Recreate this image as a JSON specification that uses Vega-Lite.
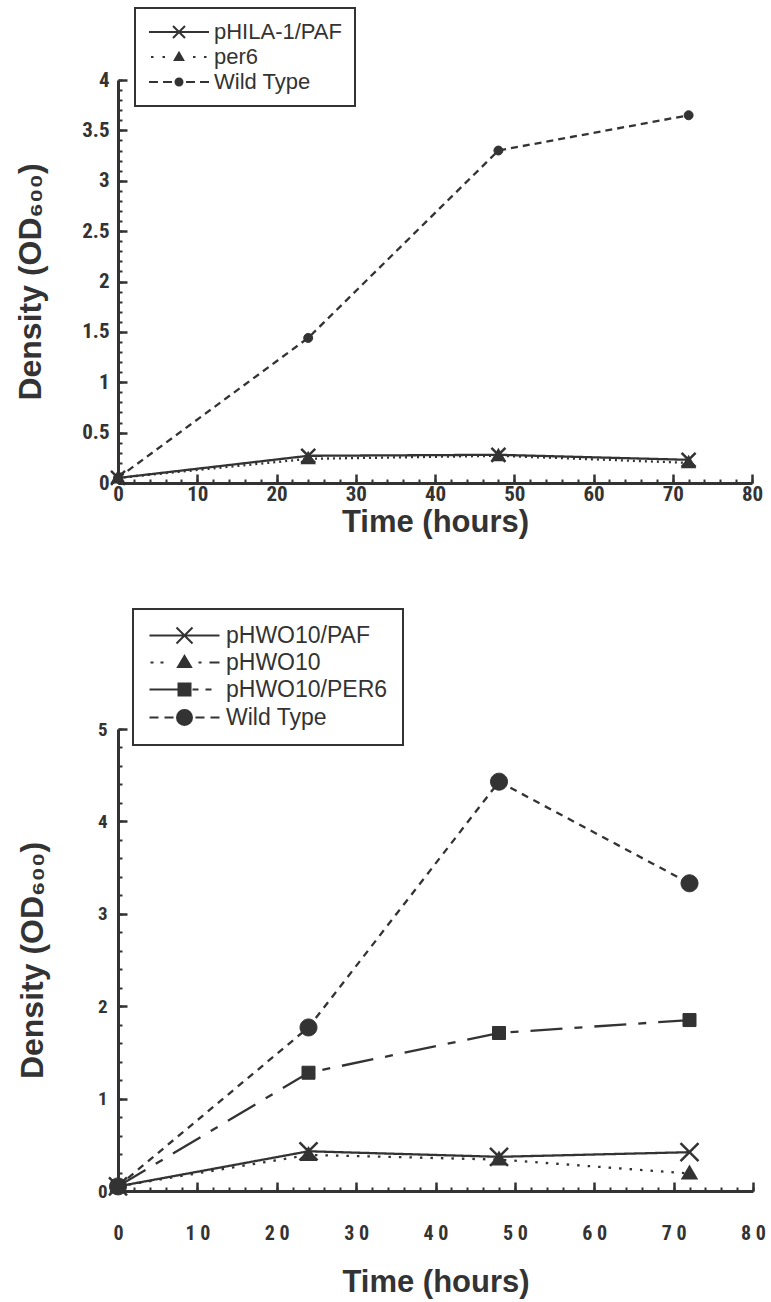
{
  "$schema": "https://vega.github.io/schema/vega-lite/v6.json",
  "background": "white",
  "padding": {"left": 14, "top": 7, "right": 5, "bottom": 5},
  "config": {
    "font": "Liberation Sans",
    "view": {"stroke": null},
    "legend": {"strokeWidth": 2},
    "axis": {
      "grid": false,
      "domainColor": "#333",
      "domainWidth": 3,
      "tickColor": "#333",
      "tickWidth": 2.5,
      "labelColor": "#333",
      "titleColor": "#333",
      "labelFont": "Liberation Sans Narrow, Roboto Condensed, DejaVu Sans Condensed, Liberation Sans, Arial, sans-serif",
      "labelFontWeight": "bold",
      "titleFont": "Liberation Sans, Arial, sans-serif",
      "titleFontWeight": "bold",
      "labelOverlap": false,
      "labelBound": false,
      "labelFlush": false
    }
  },
  "datasets": {
    "top": [
      {"series": "pHILA-1/PAF", "time": 0, "od": 0.05},
      {"series": "pHILA-1/PAF", "time": 24, "od": 0.27},
      {"series": "pHILA-1/PAF", "time": 48, "od": 0.28},
      {"series": "pHILA-1/PAF", "time": 72, "od": 0.23},
      {"series": "per6", "time": 0, "od": 0.05},
      {"series": "per6", "time": 24, "od": 0.24},
      {"series": "per6", "time": 48, "od": 0.27},
      {"series": "per6", "time": 72, "od": 0.2},
      {"series": "Wild Type", "time": 0, "od": 0.05},
      {"series": "Wild Type", "time": 24, "od": 1.44},
      {"series": "Wild Type", "time": 48, "od": 3.3},
      {"series": "Wild Type", "time": 72, "od": 3.65}
    ],
    "bottom": [
      {"series": "pHWO10/PAF", "time": 0, "od": 0.05},
      {"series": "pHWO10/PAF", "time": 24, "od": 0.43},
      {"series": "pHWO10/PAF", "time": 48, "od": 0.37},
      {"series": "pHWO10/PAF", "time": 72, "od": 0.42},
      {"series": "pHWO10", "time": 0, "od": 0.05},
      {"series": "pHWO10", "time": 24, "od": 0.39},
      {"series": "pHWO10", "time": 48, "od": 0.34},
      {"series": "pHWO10", "time": 72, "od": 0.19},
      {"series": "pHWO10/PER6", "time": 0, "od": 0.05},
      {"series": "pHWO10/PER6", "time": 24, "od": 1.28},
      {"series": "pHWO10/PER6", "time": 48, "od": 1.71},
      {"series": "pHWO10/PER6", "time": 72, "od": 1.85},
      {"series": "Wild Type", "time": 0, "od": 0.05},
      {"series": "Wild Type", "time": 24, "od": 1.77},
      {"series": "Wild Type", "time": 48, "od": 4.43},
      {"series": "Wild Type", "time": 72, "od": 3.33}
    ]
  },
  "bounds": "flush",
  "spacing": 246,
  "resolve": {
    "scale": {"shape": "independent", "strokeDash": "independent"},
    "legend": {"shape": "independent", "strokeDash": "independent"}
  },
  "vconcat": [
    {
      "data": {"name": "top"},
      "width": 634,
      "height": 403,
      "resolve": {"axis": {"x": "independent", "y": "independent"}},
      "layer": [
        {
          "mark": {"type": "line", "color": "#333", "strokeWidth": 2.3},
          "encoding": {
            "x": {"field": "time", "type": "quantitative", "scale": {"domain": [0, 80], "nice": false},
              "axis": {"orient": "bottom", "values": [0, 10, 20, 30, 40, 50, 60, 70, 80], "tickSize": -9, "labelPadding": 9, "labelFontSize": 21, "title": "Time (hours)", "titleFontSize": 31, "titlePadding": 3}},
            "y": {"field": "od", "type": "quantitative", "scale": {"domain": [0, 4], "nice": false},
              "axis": {"orient": "left", "values": [0, 0.5, 1, 1.5, 2, 2.5, 3, 3.5, 4], "format": "~g", "tickSize": -9, "labelPadding": 18, "labelFontSize": 21, "title": "Density (OD₆₀₀)", "titleFontSize": 32, "titleX": -88, "titleBaseline": "middle"}},
            "strokeDash": {"field": "series", "type": "nominal",
              "scale": {"domain": ["Wild Type", "per6", "pHILA-1/PAF"], "range": [[7, 5], [2, 4], [1, 0]]},
              "legend": null}
          }
        },
        {
          "transform": [{"filter": "datum.series === 'per6'"}],
          "mark": {"type": "point", "shape": "M0,-0.6L0.6,0.45L-0.6,0.45Z", "filled": true, "fill": "#333", "stroke": "#333", "strokeWidth": 2, "opacity": 1, "size": 400},
          "encoding": {
            "x": {"field": "time", "type": "quantitative",
              "axis": {"orient": "bottom", "values": [0,2,4,6,8,10,12,14,16,18,20,22,24,26,28,30,32,34,36,38,40,42,44,46,48,50,52,54,56,58,60,62,64,66,68,70,72,74,76,78,80], "tickSize": -4, "tickWidth": 2, "labels": false, "domain": false, "title": null}},
            "y": {"field": "od", "type": "quantitative",
              "axis": {"orient": "left", "values": [0,0.1,0.2,0.3,0.4,0.5,0.6,0.7,0.8,0.9,1,1.1,1.2,1.3,1.4,1.5,1.6,1.7,1.8,1.9,2,2.1,2.2,2.3,2.4,2.5,2.6,2.7,2.8,2.9,3,3.1,3.2,3.3,3.4,3.5,3.6,3.7,3.8,3.9,4], "tickSize": -4, "tickWidth": 2, "labels": false, "domain": false, "title": null}}
          }
        },
        {
          "transform": [{"filter": "datum.series === 'pHILA-1/PAF'"}],
          "mark": {"type": "point", "shape": "M-0.7,-0.7L0.7,0.7M-0.7,0.7L0.7,-0.7", "filled": true, "fill": "#333", "stroke": "#333", "strokeWidth": 2.5, "opacity": 1, "size": 400},
          "encoding": {
            "x": {"field": "time", "type": "quantitative", "axis": null},
            "y": {"field": "od", "type": "quantitative", "axis": null}
          }
        },
        {
          "transform": [{"filter": "datum.series === 'Wild Type'"}],
          "mark": {"type": "point", "shape": "M-0.45,0A0.45,0.45 0 1,1 0.45,0A0.45,0.45 0 1,1 -0.45,0Z", "filled": true, "fill": "#333", "stroke": "#333", "strokeWidth": 1, "opacity": 1, "size": 400},
          "encoding": {
            "x": {"field": "time", "type": "quantitative", "axis": null},
            "y": {"field": "od", "type": "quantitative", "axis": null}
          }
        },
        {
          "transform": [{"filter": "datum.od < 0"}],
          "mark": {"type": "point", "filled": true, "fill": "#333", "stroke": "#333", "strokeWidth": 2, "opacity": 1},
          "encoding": {
            "shape": {"field": "series", "type": "nominal",
              "scale": {"domain": ["pHILA-1/PAF", "per6", "Wild Type"],
                "range": [
                  "M-1,0L5,0M1.4,-0.6L2.6,0.6M1.4,0.6L2.6,-0.6",
                  "M-0.8,0L-0.55,0M0.35,0L0.6,0M3.4,0L3.65,0M4.5,0L4.75,0M2,-0.42L2.42,0.3L1.58,0.3Z",
                  "M-1,0L-0.1,0M0.4,0L1.3,0M2.7,0L3.6,0M4.1,0L5,0M1.65,0A0.35,0.35 0 1,1 2.35,0A0.35,0.35 0 1,1 1.65,0Z"
                ]},
              "legend": {
                "orient": "none", "legendX": 17, "legendY": -72, "title": null,
                "symbolSize": 400, "symbolStrokeWidth": 2, "symbolOpacity": 1,
                "labelFont": "Liberation Sans", "labelFontSize": 22, "labelColor": "#333", "labelLimit": 400,
                "labelOffset": 44, "strokeColor": "#333", "fillColor": "white", "padding": 13, "rowPadding": 3
              }
            }
          }
        }
      ]
    },
    {
      "data": {"name": "bottom"},
      "width": 635,
      "height": 462,
      "resolve": {"axis": {"x": "independent", "y": "independent"}},
      "layer": [
        {
          "mark": {"type": "line", "color": "#333", "strokeWidth": 2.3},
          "encoding": {
            "x": {"field": "time", "type": "quantitative", "scale": {"domain": [0, 80], "nice": false},
              "axis": {"orient": "bottom", "values": [0, 10, 20, 30, 40, 50, 60, 70, 80], "tickSize": -9, "labelPadding": 41, "labelFontSize": 20, "labelExpr": "join(split(datum.label, ''), ' ')", "title": "Time (hours)", "titleFontSize": 31, "titlePadding": 24}},
            "y": {"field": "od", "type": "quantitative", "scale": {"domain": [0, 5], "nice": false},
              "axis": {"orient": "left", "values": [0, 1, 2, 3, 4, 5], "tickSize": -9, "labelPadding": 20, "labelFontSize": 19, "title": "Density (OD₆₀₀)", "titleFontSize": 32, "titleX": -86, "titleBaseline": "middle"}},
            "strokeDash": {"field": "series", "type": "nominal",
              "scale": {"domain": ["Wild Type", "pHWO10/PER6", "pHWO10", "pHWO10/PAF"], "range": [[7, 6], [32, 12, 8, 12], [2.5, 8], [1, 0]]},
              "legend": null}
          }
        },
        {
          "transform": [{"filter": "datum.series === 'pHWO10'"}],
          "mark": {"type": "point", "shape": "M0,-0.7L0.7,0.5L-0.7,0.5Z", "filled": true, "fill": "#333", "stroke": "#333", "strokeWidth": 2, "opacity": 1, "size": 400},
          "encoding": {
            "x": {"field": "time", "type": "quantitative",
              "axis": {"orient": "bottom", "values": [0,2,4,6,8,10,12,14,16,18,20,22,24,26,28,30,32,34,36,38,40,42,44,46,48,50,52,54,56,58,60,62,64,66,68,70,72,74,76,78,80], "tickSize": -4, "tickWidth": 2, "labels": false, "domain": false, "title": null}},
            "y": {"field": "od", "type": "quantitative",
              "axis": {"orient": "left", "values": [0,0.2,0.4,0.6,0.8,1,1.2,1.4,1.6,1.8,2,2.2,2.4,2.6,2.8,3,3.2,3.4,3.6,3.8,4,4.2,4.4,4.6,4.8,5], "tickSize": -4, "tickWidth": 2, "labels": false, "domain": false, "title": null}}
          }
        },
        {
          "transform": [{"filter": "datum.series === 'pHWO10/PAF'"}],
          "mark": {"type": "point", "shape": "M-0.9,-0.9L0.9,0.9M-0.9,0.9L0.9,-0.9", "filled": true, "fill": "#333", "stroke": "#333", "strokeWidth": 2.5, "opacity": 1, "size": 400},
          "encoding": {
            "x": {"field": "time", "type": "quantitative", "axis": null},
            "y": {"field": "od", "type": "quantitative", "axis": null}
          }
        },
        {
          "transform": [{"filter": "datum.series === 'pHWO10/PER6'"}],
          "mark": {"type": "point", "shape": "M-0.65,-0.65L0.65,-0.65L0.65,0.65L-0.65,0.65Z", "filled": true, "fill": "#333", "stroke": "#333", "strokeWidth": 1, "opacity": 1, "size": 400},
          "encoding": {
            "x": {"field": "time", "type": "quantitative", "axis": null},
            "y": {"field": "od", "type": "quantitative", "axis": null}
          }
        },
        {
          "transform": [{"filter": "datum.series === 'Wild Type'"}],
          "mark": {"type": "point", "shape": "M-0.85,0A0.85,0.85 0 1,1 0.85,0A0.85,0.85 0 1,1 -0.85,0Z", "filled": true, "fill": "#333", "stroke": "#333", "strokeWidth": 1, "opacity": 1, "size": 400},
          "encoding": {
            "x": {"field": "time", "type": "quantitative", "axis": null},
            "y": {"field": "od", "type": "quantitative", "axis": null}
          }
        },
        {
          "transform": [{"filter": "datum.od < 0"}],
          "mark": {"type": "point", "filled": true, "fill": "#333", "stroke": "#333", "strokeWidth": 2, "opacity": 1},
          "encoding": {
            "shape": {"field": "series", "type": "nominal",
              "scale": {"domain": ["pHWO10/PAF", "pHWO10", "pHWO10/PER6", "Wild Type"],
                "range": [
                  "M-1,0L6,0M1.7,-0.8L3.3,0.8M1.7,0.8L3.3,-0.8",
                  "M-0.9,0L-0.6,0M0.1,0L0.4,0M3.9,0L4.2,0M5,0L6,0M2.5,-0.65L3.15,0.45L1.85,0.45Z",
                  "M-1,0L2,0M3.3,0L3.9,0M4.6,0L5.2,0M1.9,-0.6L3.1,-0.6L3.1,0.6L1.9,0.6Z",
                  "M-1,0L-0.1,0M0.5,0L1.4,0M3.6,0L4.5,0M5.1,0L6,0M1.75,0A0.75,0.75 0 1,1 3.25,0A0.75,0.75 0 1,1 1.75,0Z"
                ]},
              "legend": {
                "orient": "none", "legendX": 15, "legendY": -120, "title": null,
                "symbolSize": 400, "symbolStrokeWidth": 2, "symbolOpacity": 1,
                "labelFont": "Liberation Sans", "labelFontSize": 23, "labelColor": "#333", "labelLimit": 400,
                "labelOffset": 55, "strokeColor": "#333", "fillColor": "white", "padding": 15, "rowPadding": 3
              }
            }
          }
        }
      ]
    }
  ]
}
